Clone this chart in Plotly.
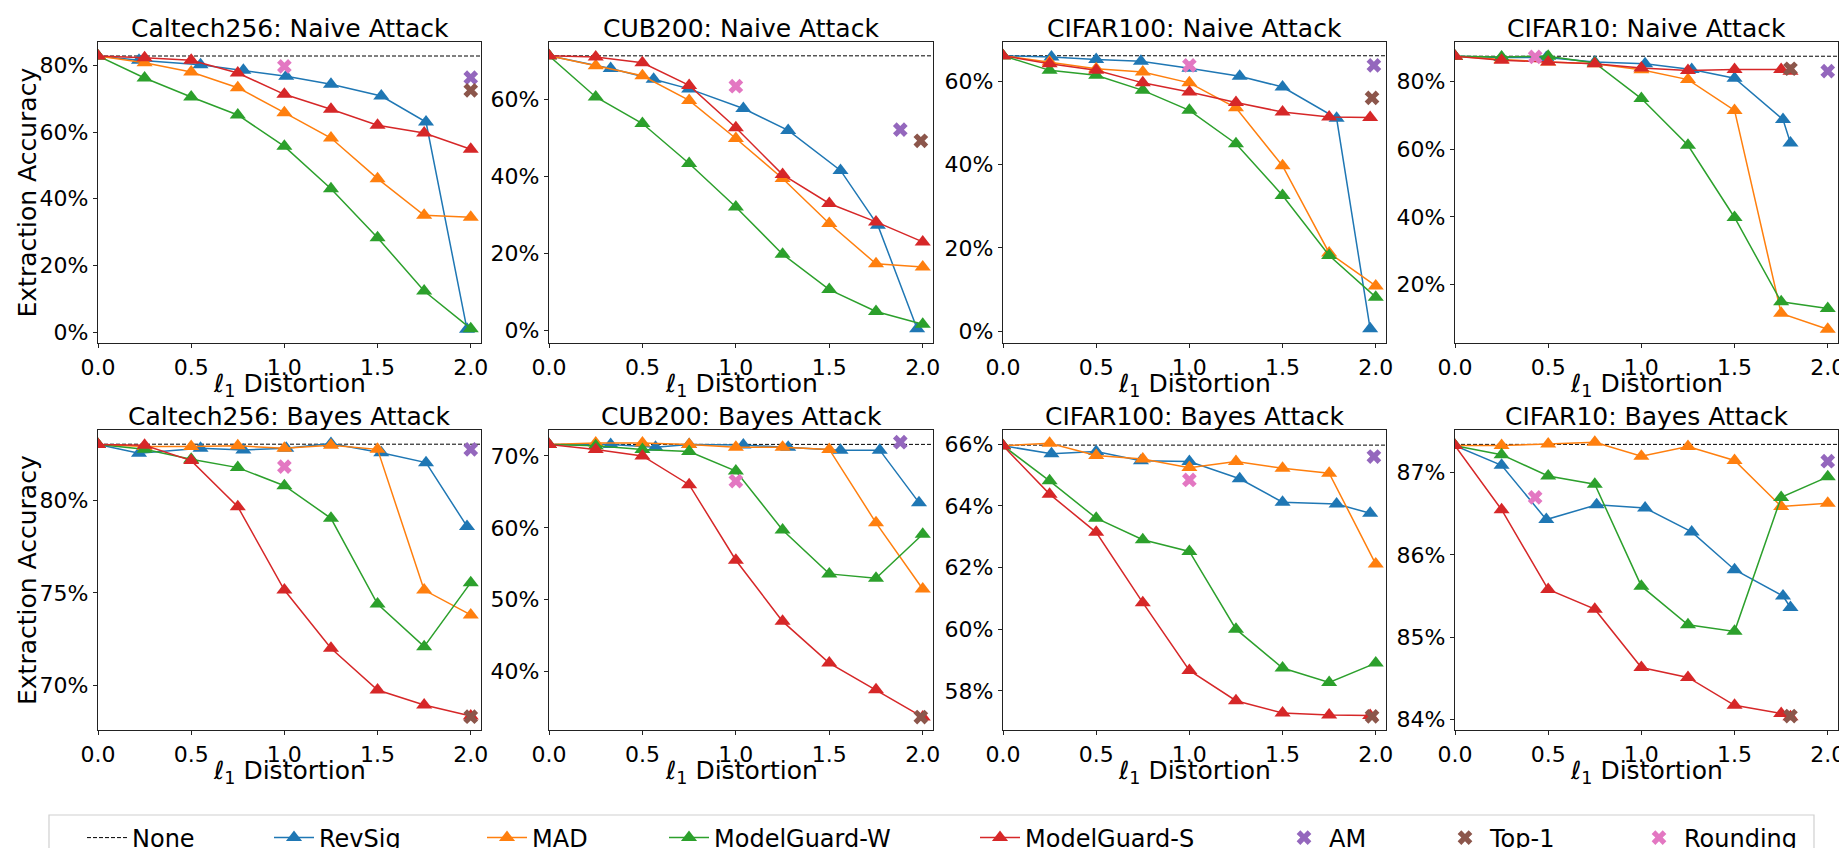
import plotly.graph_objects as go

# target picture size and the browser's default 8px page margin
SHOT_W, SHOT_H = 1847, 848
OFF = 8
W, H = SHOT_W - OFF, SHOT_H - OFF
FONT = "DejaVu Sans"

# ---------------- data (accuracy in %) ----------------
DATASETS = ["Caltech256", "CUB200", "CIFAR100", "CIFAR10"]
ATTACKS = ["Naive Attack", "Bayes Attack"]
GRID = [0, 0.25, 0.5, 0.75, 1.0, 1.25, 1.5, 1.75, 2.0]

# undefended accuracy ("None") per panel: naive row then bayes row
NONE_ACC = [82.8, 71.4, 66.1, 87.4, 83.06, 71.6, 65.97, 87.345]

# --- Caltech256, naive ---
C256N_REVSIG_X = [0, 0.22, 0.55, 0.78, 1.01, 1.25, 1.52, 1.76, 1.98]
C256N_REVSIG_Y = [82.8, 81.5, 80.2, 78.5, 76.7, 74.3, 70.8, 63.0, 0.8]
C256N_MAD_Y = [82.8, 80.8, 78.0, 73.3, 65.8, 58.2, 46.0, 35.0, 34.4]
C256N_MGW_Y = [82.8, 76.2, 70.5, 65.1, 55.7, 43.0, 28.3, 12.3, 1.0]
C256N_MGS_X = [0, 0.25, 0.5, 0.75, 1.0, 1.25, 1.5, 1.75, 2.0]
C256N_MGS_Y = [82.8, 82.3, 81.5, 77.7, 71.3, 66.8, 62.0, 59.7, 54.8]
C256N_AM = (2.0, 76.3)
C256N_TOP1 = (2.0, 72.5)
C256N_ROUND = (1.0, 79.7)

# --- CUB200, naive ---
CUBN_REVSIG_X = [0, 0.33, 0.56, 0.75, 1.04, 1.28, 1.56, 1.76, 1.97]
CUBN_REVSIG_Y = [71.4, 68.1, 65.3, 62.8, 57.7, 52.0, 41.6, 27.3, 0.4]
CUBN_MAD_Y = [71.4, 68.8, 66.2, 59.8, 49.9, 39.5, 27.8, 17.3, 16.5]
CUBN_MGW_Y = [71.4, 60.7, 53.8, 43.4, 32.1, 19.8, 10.6, 4.9, 1.6]
CUBN_MGS_X = [0, 0.25, 0.5, 0.75, 1.0, 1.25, 1.5, 1.75, 2.0]
CUBN_MGS_Y = [71.4, 71.1, 69.6, 63.7, 52.7, 40.5, 33.0, 28.2, 23.0]
CUBN_AM = (1.88, 52.2)
CUBN_TOP1 = (1.99, 49.3)
CUBN_ROUND = (1.0, 63.5)

# --- CIFAR100, naive ---
C100N_REVSIG_X = [0, 0.26, 0.5, 0.74, 1.0, 1.27, 1.5, 1.79, 1.97]
C100N_REVSIG_Y = [66.1, 65.8, 65.2, 64.8, 63.1, 61.2, 58.6, 51.1, 0.6]
C100N_MAD_Y = [66.1, 64.6, 63.0, 62.2, 59.6, 53.6, 39.7, 18.8, 10.9]
C100N_MGW_Y = [66.1, 62.6, 61.4, 57.8, 53.0, 45.0, 32.6, 18.2, 8.2]
C100N_MGS_X = [0, 0.25, 0.5, 0.75, 1.0, 1.25, 1.5, 1.75, 1.97]
C100N_MGS_Y = [66.1, 64.2, 62.6, 59.6, 57.4, 54.9, 52.6, 51.4, 51.3]
C100N_AM = (1.99, 63.8)
C100N_TOP1 = (1.98, 56.0)
C100N_ROUND = (1.0, 63.8)

# --- CIFAR10, naive ---
C10N_REVSIG_X = [0, 0.25, 0.49, 0.75, 1.02, 1.27, 1.5, 1.76, 1.8]
C10N_REVSIG_Y = [87.4, 87.0, 87.0, 85.7, 85.2, 83.5, 80.9, 68.7, 61.8]
C10N_MAD_Y = [87.4, 86.4, 85.7, 85.2, 83.4, 80.5, 71.4, 11.5, 6.8]
C10N_MGW_Y = [87.4, 87.2, 87.4, 85.4, 74.9, 61.1, 39.8, 14.9, 12.9]
C10N_MGS_X = [0, 0.25, 0.5, 0.75, 1.0, 1.25, 1.5, 1.75, 1.8]
C10N_MGS_Y = [87.4, 86.2, 85.7, 85.2, 83.9, 83.2, 83.5, 83.5, 83.0]
C10N_AM = (2.0, 83.0)
C10N_TOP1 = (1.8, 83.7)
C10N_ROUND = (0.43, 87.2)

# --- Caltech256, bayes ---
C256B_REVSIG_X = [0, 0.22, 0.55, 0.78, 1.01, 1.25, 1.52, 1.76, 1.98]
C256B_REVSIG_Y = [83.05, 82.57, 82.84, 82.75, 82.84, 83.1, 82.6, 82.06, 78.6]
C256B_MAD_Y = [83.05, 82.93, 82.93, 82.97, 82.84, 83.0, 82.78, 75.15, 73.8]
C256B_MGW_Y = [83.05, 82.78, 82.24, 81.79, 80.81, 79.04, 74.39, 72.08, 75.55]
C256B_MGS_X = [0, 0.25, 0.5, 0.75, 1.0, 1.25, 1.5, 1.75, 2.0]
C256B_MGS_Y = [83.05, 83.0, 82.17, 79.67, 75.15, 71.99, 69.73, 68.92, 68.32]
C256B_AM = (2.0, 82.78)
C256B_TOP1 = (2.0, 68.28)
C256B_ROUND = (1.0, 81.84)

# --- CUB200, bayes ---
CUBB_REVSIG_X = [0, 0.33, 0.57, 0.75, 1.04, 1.28, 1.56, 1.77, 1.98]
CUBB_REVSIG_Y = [71.6, 71.6, 71.2, 71.6, 71.5, 71.2, 70.8, 70.8, 63.5]
CUBB_MAD_Y = [71.6, 71.8, 71.8, 71.6, 71.2, 71.2, 70.9, 60.7, 51.5]
CUBB_MGW_Y = [71.6, 71.4, 70.9, 70.6, 67.9, 59.7, 53.6, 53.0, 59.1]
CUBB_MGS_X = [0, 0.25, 0.5, 0.75, 1.0, 1.25, 1.5, 1.75, 2.0]
CUBB_MGS_Y = [71.6, 70.9, 70.0, 66.0, 55.5, 47.0, 41.2, 37.5, 33.7]
CUBB_AM = (1.88, 71.9)
CUBB_TOP1 = (1.99, 33.7)
CUBB_ROUND = (1.0, 66.5)

# --- CIFAR100, bayes ---
C100B_REVSIG_X = [0, 0.26, 0.5, 0.74, 1.0, 1.27, 1.5, 1.79, 1.97]
C100B_REVSIG_Y = [65.95, 65.69, 65.76, 65.46, 65.44, 64.88, 64.12, 64.06, 63.76]
C100B_MAD_Y = [65.95, 66.03, 65.63, 65.52, 65.24, 65.44, 65.22, 65.06, 62.11]
C100B_MGW_Y = [65.95, 64.81, 63.6, 62.9, 62.52, 60.0, 58.74, 58.27, 58.9]
C100B_MGS_X = [0, 0.25, 0.5, 0.75, 1.0, 1.25, 1.5, 1.75, 1.97]
C100B_MGS_Y = [65.95, 64.38, 63.14, 60.86, 58.66, 57.68, 57.28, 57.22, 57.2]
C100B_AM = (1.99, 65.6)
C100B_TOP1 = (1.98, 57.17)
C100B_ROUND = (1.0, 64.84)

# --- CIFAR10, bayes ---
C10B_REVSIG_X = [0, 0.25, 0.49, 0.76, 1.02, 1.27, 1.5, 1.76, 1.8]
C10B_REVSIG_Y = [87.33, 87.09, 86.43, 86.61, 86.57, 86.28, 85.82, 85.5, 85.36]
C10B_MAD_Y = [87.33, 87.33, 87.35, 87.37, 87.2, 87.32, 87.15, 86.59, 86.63]
C10B_MGW_Y = [87.33, 87.22, 86.96, 86.86, 85.62, 85.15, 85.07, 86.7, 86.95]
C10B_MGS_X = [0, 0.25, 0.5, 0.75, 1.0, 1.25, 1.5, 1.75, 1.8]
C10B_MGS_Y = [87.33, 86.55, 85.58, 85.34, 84.63, 84.51, 84.17, 84.07, 84.03]
C10B_AM = (2.0, 87.14)
C10B_TOP1 = (1.8, 84.04)
C10B_ROUND = (0.43, 86.7)

# y tick values per panel
Y_TICKS = [
    [0, 20, 40, 60, 80], [0, 20, 40, 60], [0, 20, 40, 60], [20, 40, 60, 80],
    [70, 75, 80], [40, 50, 60, 70], [58, 60, 62, 64, 66], [84, 85, 86, 87],
]
X_TICKS = [0.0, 0.5, 1.0, 1.5, 2.0]

# ---------------- style / layout ----------------
Y_RANGES = [
    [-3.3, 87.0], [-3.3, 75.0], [-2.8, 69.4], [2.75, 91.6],
    [67.56, 83.83], [31.9, 73.6], [56.73, 66.46], [83.87, 87.52],
]
X_RANGE = [0, 2.055]

# axes boxes in screenshot pixels
COL_PX = [(98, 481), (549, 933), (1003, 1386), (1455, 1838)]
ROW_PX = [(42, 343), (430, 730)]

C_REVSIG, C_MAD, C_MGW, C_MGS = "#1f77b4", "#ff7f0e", "#2ca02c", "#d62728"
C_AM, C_TOP1, C_ROUND = "#9467bd", "#8c564b", "#e377c2"

PANELS = [
    (C256N_REVSIG_X, C256N_REVSIG_Y, C256N_MAD_Y, C256N_MGW_Y, C256N_MGS_X, C256N_MGS_Y, C256N_AM, C256N_TOP1, C256N_ROUND),
    (CUBN_REVSIG_X, CUBN_REVSIG_Y, CUBN_MAD_Y, CUBN_MGW_Y, CUBN_MGS_X, CUBN_MGS_Y, CUBN_AM, CUBN_TOP1, CUBN_ROUND),
    (C100N_REVSIG_X, C100N_REVSIG_Y, C100N_MAD_Y, C100N_MGW_Y, C100N_MGS_X, C100N_MGS_Y, C100N_AM, C100N_TOP1, C100N_ROUND),
    (C10N_REVSIG_X, C10N_REVSIG_Y, C10N_MAD_Y, C10N_MGW_Y, C10N_MGS_X, C10N_MGS_Y, C10N_AM, C10N_TOP1, C10N_ROUND),
    (C256B_REVSIG_X, C256B_REVSIG_Y, C256B_MAD_Y, C256B_MGW_Y, C256B_MGS_X, C256B_MGS_Y, C256B_AM, C256B_TOP1, C256B_ROUND),
    (CUBB_REVSIG_X, CUBB_REVSIG_Y, CUBB_MAD_Y, CUBB_MGW_Y, CUBB_MGS_X, CUBB_MGS_Y, CUBB_AM, CUBB_TOP1, CUBB_ROUND),
    (C100B_REVSIG_X, C100B_REVSIG_Y, C100B_MAD_Y, C100B_MGW_Y, C100B_MGS_X, C100B_MGS_Y, C100B_AM, C100B_TOP1, C100B_ROUND),
    (C10B_REVSIG_X, C10B_REVSIG_Y, C10B_MAD_Y, C10B_MGW_Y, C10B_MGS_X, C10B_MGS_Y, C10B_AM, C10B_TOP1, C10B_ROUND),
]


def px_x(p):
    return (p - OFF) / W


def px_y(p):
    return 1 - (p - OFF) / H


fig = go.Figure()

TRI = 14
LW = 1.5
XS = 13

for i, (rx, ry, mad_y, mgw_y, msx, msy, am, top1, rnd) in enumerate(PANELS):
    n = i + 1
    xref = "x" if n == 1 else f"x{n}"
    yref = "y" if n == 1 else f"y{n}"
    first = n == 1

    def add(trace, leg):
        trace.update(xaxis=xref, yaxis=yref, showlegend=first, legend=leg)
        fig.add_trace(trace)

    add(go.Scatter(x=X_RANGE, y=[NONE_ACC[i]] * 2, mode="lines", name="None",
                   line=dict(color="black", width=1, dash="4px,2px"), hoverinfo="skip"), "legend")
    add(go.Scatter(x=rx, y=ry, mode="lines+markers", name="RevSig",
                   line=dict(color=C_REVSIG, width=LW),
                   marker=dict(symbol="triangle-up", size=TRI, color=C_REVSIG)), "legend2")
    add(go.Scatter(x=GRID, y=mad_y, mode="lines+markers", name="MAD",
                   line=dict(color=C_MAD, width=LW),
                   marker=dict(symbol="triangle-up", size=TRI, color=C_MAD)), "legend3")
    add(go.Scatter(x=GRID, y=mgw_y, mode="lines+markers", name="ModelGuard-W",
                   line=dict(color=C_MGW, width=LW),
                   marker=dict(symbol="triangle-up", size=TRI, color=C_MGW)), "legend4")
    add(go.Scatter(x=msx, y=msy, mode="lines+markers", name="ModelGuard-S",
                   line=dict(color=C_MGS, width=LW),
                   marker=dict(symbol="triangle-up", size=TRI, color=C_MGS)), "legend5")
    add(go.Scatter(x=[am[0]], y=[am[1]], mode="markers", name="AM",
                   marker=dict(symbol="x", size=XS, color=C_AM)), "legend6")
    add(go.Scatter(x=[top1[0]], y=[top1[1]], mode="markers", name="Top-1",
                   marker=dict(symbol="x", size=XS, color=C_TOP1)), "legend7")
    add(go.Scatter(x=[rnd[0]], y=[rnd[1]], mode="markers", name="Rounding",
                   marker=dict(symbol="x", size=XS, color=C_ROUND)), "legend8")

axis_common = dict(
    showline=True, mirror=True, linecolor="#222", linewidth=1.3,
    ticks="outside", ticklen=4, tickwidth=1.2, tickcolor="#222",
    showgrid=False, zeroline=False,
    tickfont=dict(family=FONT, size=22, color="black"),
)

layout = dict(
    width=W, height=H,
    margin=dict(l=0, r=0, t=0, b=0, autoexpand=False),
    paper_bgcolor="white", plot_bgcolor="white",
    font=dict(family=FONT, color="black"),
    annotations=[], shapes=[],
)

for i in range(8):
    n = i + 1
    r, c = divmod(i, 4)
    x0, x1 = COL_PX[c]
    y0, y1 = ROW_PX[r]
    xkey = "xaxis" if n == 1 else f"xaxis{n}"
    ykey = "yaxis" if n == 1 else f"yaxis{n}"
    yanchor = "y" if n == 1 else f"y{n}"
    xanchor = "x" if n == 1 else f"x{n}"
    layout[xkey] = dict(axis_common, domain=[px_x(x0), px_x(x1)], range=X_RANGE,
                        anchor=yanchor, tickmode="array", tickvals=X_TICKS,
                        ticktext=[f"{v:.1f}" for v in X_TICKS])
    layout[ykey] = dict(axis_common, domain=[px_y(y1), px_y(y0)], range=Y_RANGES[i],
                        anchor=xanchor, tickmode="array", tickvals=Y_TICKS[i],
                        ticktext=[f"{v}%" for v in Y_TICKS[i]])
    cx = (x0 + x1) / 2
    # panel title
    layout["annotations"].append(dict(
        text=f"{DATASETS[c]}: {ATTACKS[r]}", x=px_x(cx), y=px_y(y0 - 14),
        xref="paper", yref="paper", xanchor="center", yanchor="middle",
        showarrow=False, font=dict(family=FONT, size=25, color="black")))
    # x-axis title
    layout["annotations"].append(dict(
        text="ℓ<sub>1</sub> Distortion", x=px_x(cx), y=px_y(y1 + 42),
        xref="paper", yref="paper", xanchor="center", yanchor="middle",
        showarrow=False, font=dict(family=FONT, size=25, color="black")))
    if c == 0:
        layout["annotations"].append(dict(
            text="Extraction Accuracy", x=px_x(27), y=px_y((y0 + y1) / 2),
            xref="paper", yref="paper", xanchor="center", yanchor="middle",
            textangle=-90, showarrow=False,
            font=dict(family=FONT, size=25, color="black")))

# legend frame
layout["shapes"].append(dict(
    type="rect", xref="paper", yref="paper",
    x0=px_x(49), x1=px_x(1814), y0=px_y(880), y1=px_y(815),
    line=dict(color="#d0d0d0", width=1.2), fillcolor="rgba(0,0,0,0)", layer="below"))

# one legend per entry, placed along the bottom strip (text start positions)
LEG_TEXT_PX = [132, 319, 532, 714, 1025, 1329, 1490, 1684]
ITEM_W = 40
TEXT_OFFSET = ITEM_W + 10
leg_names = ["legend"] + [f"legend{k}" for k in range(2, 9)]
for name, tx in zip(leg_names, LEG_TEXT_PX):
    layout[name] = dict(
        x=px_x(tx - TEXT_OFFSET), y=px_y(838), xanchor="left", yanchor="middle",
        orientation="h", bgcolor="rgba(0,0,0,0)", borderwidth=0,
        itemwidth=ITEM_W, font=dict(family=FONT, size=24, color="black"),
        tracegroupgap=0,
    )

fig.update_layout(**layout)
fig.write_html("out.html")
